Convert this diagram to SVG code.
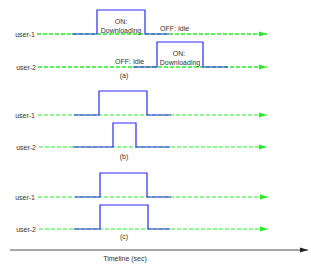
<svg xmlns="http://www.w3.org/2000/svg" width="311" height="271" viewBox="0 0 311 271">
<style>
text{font-family:"Liberation Sans",Arial,sans-serif;font-size:7px;fill:#333}
.lbl{text-anchor:end}
.mid{text-anchor:middle}
.g{stroke:#22ee22;stroke-dasharray:4 2;fill:none}
.ga{stroke-width:1.5}
.gb{stroke-width:1}
.sig{stroke:#2a2af5;stroke-width:1.2;fill:none}
</style>
<defs>
<marker id="ag" markerUnits="userSpaceOnUse" markerWidth="8" markerHeight="6" refX="8" refY="3" orient="auto"><path d="M0,0.5 L8,3 L0,5.5 z" fill="#22ee22"/></marker>
<marker id="ak" markerUnits="userSpaceOnUse" markerWidth="8" markerHeight="6" refX="8" refY="3" orient="auto"><path d="M0,0.5 L8,3 L0,5.5 z" fill="#222"/></marker>
</defs>
<g id="connectors">
<line class="g ga" x1="37" y1="34" x2="267" y2="34" marker-end="url(#ag)"/>
<line class="g ga" x1="38" y1="67" x2="267" y2="67" marker-end="url(#ag)"/>
<line class="g gb" x1="38" y1="115" x2="267" y2="115" marker-end="url(#ag)"/>
<line class="g gb" x1="39" y1="147" x2="267" y2="147" marker-end="url(#ag)"/>
<line class="g gb" x1="38" y1="197" x2="268" y2="197" marker-end="url(#ag)"/>
<line class="g gb" x1="39" y1="229" x2="268" y2="229" marker-end="url(#ag)"/>
<line x1="10" y1="250" x2="308" y2="250" stroke="#888" stroke-width="1.5" marker-end="url(#ak)"/>
</g>
<g id="panel-a">
<text class="lbl" x="35" y="36.5">user-1</text>
<text class="lbl" x="36" y="69.5">user-2</text>
<path class="sig" d="M72,34 H97 V10 H145 V34 H169"/>
<path class="sig" d="M133,67 H157 V42 H203 V67 H228"/>
<text class="mid" x="121" y="23.5">ON:</text>
<text class="mid" x="121" y="32.5">Downloading</text>
<text x="160" y="30.5">OFF: Idle</text>
<text class="mid" x="179" y="55.5">ON:</text>
<text class="mid" x="180" y="64.5">Downloading</text>
<text x="115" y="63.5">OFF: Idle</text>
<text class="mid" x="124" y="77.5">(a)</text>
</g>
<g id="panel-b">
<text class="lbl" x="35" y="117.5">user-1</text>
<text class="lbl" x="36" y="149.5">user-2</text>
<path class="sig" d="M74,115 H99 V91 H147 V115 H171"/>
<path class="sig" d="M73,147 H113 V123 H136 V147 H170"/>
<text class="mid" x="124" y="158.5">(b)</text>
</g>
<g id="panel-c">
<text class="lbl" x="35" y="199.5">user-1</text>
<text class="lbl" x="36" y="231.5">user-2</text>
<path class="sig" d="M75,197 H100 V173 H147 V197 H171"/>
<path class="sig" d="M74,229 H100 V205 H148 V229 H170"/>
<text class="mid" x="124" y="238.5">(c)</text>
</g>
<g id="axis-label">
<text class="mid" x="125" y="260.5">Timeline (sec)</text>
</g>
</svg>
